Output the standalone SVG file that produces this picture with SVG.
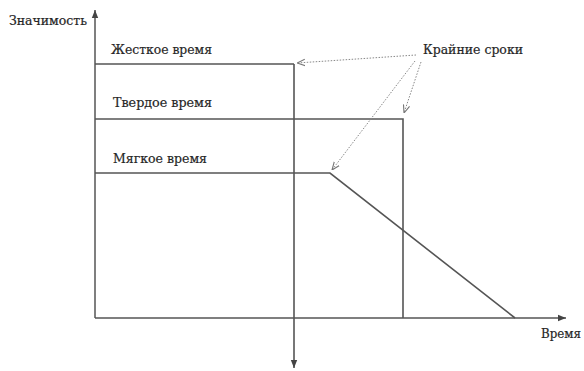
<svg xmlns="http://www.w3.org/2000/svg" width="584" height="371" viewBox="0 0 584 371">
  <style>
    .ax { stroke: #555; stroke-width: 1.5; fill: none; }
    .ln { stroke: #555; stroke-width: 1.6; fill: none; }
    .dot { stroke: #888; stroke-width: 1; stroke-dasharray: 1.5 1.5; fill: none; }
    .lbl { font-family: 'DejaVu Serif', 'Liberation Serif', serif; font-size: 13px; fill: #262626; stroke: #262626; stroke-width: 0.2; }
    .sm { font-size: 12px; }
  </style>
  <defs>
    <marker id="arr" viewBox="0 0 10 10" refX="10" refY="5" markerWidth="8" markerHeight="8" markerUnits="userSpaceOnUse" orient="auto">
      <path d="M0,1 L10,5 L0,9 Z" fill="#444"/>
    </marker>
    <marker id="open" viewBox="0 0 10 10" refX="10" refY="5" markerWidth="8" markerHeight="8" markerUnits="userSpaceOnUse" orient="auto">
      <path d="M0,1 L10,5 L0,9" fill="none" stroke="#777" stroke-width="1.4"/>
    </marker>
  </defs>

  <!-- axes -->
  <g id="axes">
    <line class="ax" x1="95" y1="318" x2="95" y2="10" marker-end="url(#arr)"/>
    <line class="ax" x1="95" y1="318" x2="566" y2="318" marker-end="url(#arr)"/>
    <text class="lbl sm" x="9" y="25" textLength="78" lengthAdjust="spacingAndGlyphs">Значимость</text>
    <text class="lbl" x="541" y="338" textLength="40" lengthAdjust="spacingAndGlyphs">Время</text>
  </g>

  <!-- hard real-time -->
  <g id="hard">
    <line class="ln" x1="95" y1="64" x2="294" y2="64"/>
    <line class="ln" x1="294" y1="64" x2="294" y2="368" marker-end="url(#arr)"/>
    <text class="lbl" x="111" y="54" textLength="101" lengthAdjust="spacingAndGlyphs">Жесткое время</text>
  </g>

  <!-- firm real-time -->
  <g id="firm">
    <polyline class="ln" points="95,119 403,119 403,318"/>
    <text class="lbl" x="113" y="107" textLength="99" lengthAdjust="spacingAndGlyphs">Твердое время</text>
  </g>

  <!-- soft real-time -->
  <g id="soft">
    <polyline class="ln" points="95,173 330,173 515,318"/>
    <text class="lbl" x="113" y="163" textLength="94" lengthAdjust="spacingAndGlyphs">Мягкое время</text>
  </g>

  <!-- deadlines label -->
  <g id="deadlines">
    <text class="lbl" x="423" y="54" textLength="100" lengthAdjust="spacingAndGlyphs">Крайние сроки</text>
  </g>

  <!-- dotted pointers -->
  <g id="connectors">
    <line class="dot" x1="416" y1="55" x2="297" y2="63" marker-end="url(#open)"/>
    <line class="dot" x1="421" y1="62" x2="404" y2="113" marker-end="url(#open)"/>
    <line class="dot" x1="415" y1="61" x2="332" y2="170" marker-end="url(#open)"/>
  </g>
</svg>
